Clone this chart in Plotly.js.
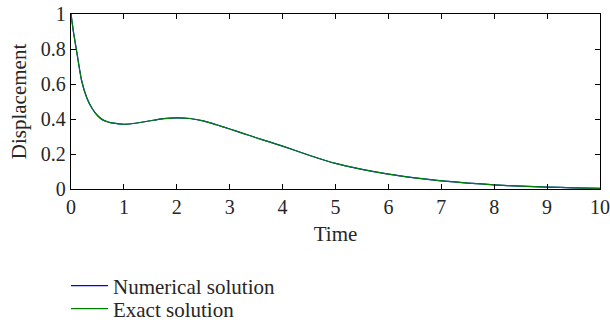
<!DOCTYPE html>
<html>
<head>
<meta charset="utf-8">
<script src="https://cdn.plot.ly/plotly-3.0.1.min.js"></script>
<style>
    html, body { margin: 0; padding: 0; background: #fff; }
    #chart { width: 610px; height: 324px; }
</style>
</head>
<body>
<div id="chart"></div>
<script>
// Time samples
const time = [0, 0.05, 0.1, 0.2, 0.3, 0.4, 0.5, 0.6, 0.7, 0.8, 0.9, 1.0,
    1.25, 1.5, 1.75, 2.0, 2.25, 2.5, 2.75, 3.0, 3.25, 3.5, 3.75, 4.0,
    4.5, 5, 5.5, 6, 6.5, 7, 7.5, 8, 8.5, 9, 9.5, 10];

// Numerical and exact displacement (the two curves overlap)
const numericalSolution = [1.0, 0.89, 0.80, 0.62, 0.52, 0.46, 0.42, 0.395, 0.383, 0.376, 0.372, 0.370,
    0.377, 0.390, 0.402, 0.407, 0.403, 0.389, 0.367, 0.343, 0.318, 0.293, 0.269, 0.245,
    0.193, 0.146, 0.112, 0.085, 0.064, 0.047, 0.034, 0.024, 0.016, 0.011, 0.007, 0.004];
const exactSolution = [1.0, 0.89, 0.80, 0.62, 0.52, 0.46, 0.42, 0.395, 0.383, 0.376, 0.372, 0.370,
    0.377, 0.390, 0.402, 0.407, 0.403, 0.389, 0.367, 0.343, 0.318, 0.293, 0.269, 0.245,
    0.193, 0.146, 0.112, 0.085, 0.064, 0.047, 0.034, 0.024, 0.016, 0.011, 0.007, 0.004];

const xTicks = [0, 1, 2, 3, 4, 5, 6, 7, 8, 9, 10];
const yTicks = [0, 0.2, 0.4, 0.6, 0.8, 1];

const FONT = '"Liberation Serif", "Times New Roman", serif';
const TEXT = '#262626';

const traces = [
    {
        x: time,
        y: numericalSolution,
        name: 'Numerical solution',
        type: 'scatter',
        mode: 'lines',
        legend: 'legend',
        line: { color: '#0000ff', width: 1.2, shape: 'spline', smoothing: 0.6 }
    },
    {
        x: time,
        y: exactSolution,
        name: 'Exact solution',
        type: 'scatter',
        mode: 'lines',
        legend: 'legend2',
        line: { color: '#008000', width: 1.2, shape: 'spline', smoothing: 0.6 }
    }
];

const axisCommon = {
    showline: true,
    linecolor: '#000',
    linewidth: 1.2,
    mirror: 'ticks',
    ticks: 'inside',
    ticklen: 5,
    tickcolor: '#000',
    showgrid: false,
    zeroline: false,
    tickfont: { family: FONT, size: 20, color: TEXT }
};

// one legend per entry, so the row spacing can follow the reference
const legendCommon = {
    x: -0.0095,
    xanchor: 'left',
    yanchor: 'middle',
    itemwidth: 37,
    bgcolor: 'rgba(0,0,0,0)',
    font: { family: FONT, size: 21, color: TEXT }
};

const layout = {
    width: 610,
    height: 324,
    margin: { l: 71, r: 10, t: 14, b: 135, autoexpand: false },
    paper_bgcolor: '#fff',
    plot_bgcolor: '#fff',
    font: { family: FONT, size: 20, color: TEXT },
    xaxis: Object.assign({}, axisCommon, {
        range: [0, 10],
        tickvals: xTicks,
        ticktext: xTicks.map(String),
        title: { text: 'Time', font: { family: FONT, size: 21, color: TEXT }, standoff: 9 }
    }),
    yaxis: Object.assign({}, axisCommon, {
        range: [0, 1],
        tickvals: yTicks,
        ticktext: yTicks.map(String),
        title: { text: 'Displacement', font: { family: FONT, size: 21, color: TEXT }, standoff: 8 }
    }),
    showlegend: true,
    legend: Object.assign({}, legendCommon, { y: -0.554 }),
    legend2: Object.assign({}, legendCommon, { y: -0.686 })
};

Plotly.newPlot('chart', traces, layout, { staticPlot: true, displayModeBar: false });
</script>
</body>
</html>
